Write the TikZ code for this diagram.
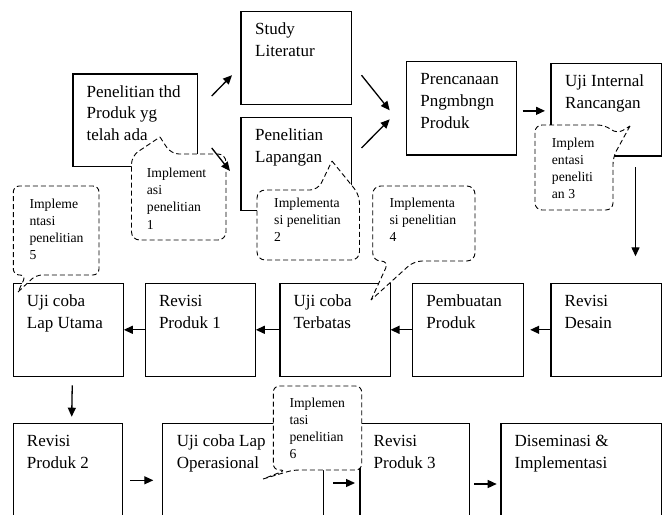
\documentclass[tikz,border=0pt]{standalone}
\usepackage{fontspec}
\setmainfont{Liberation Serif}
\usetikzlibrary{calc,arrows.meta}
% several lines set ragged right, baseline at the first line
\newcommand\stack[1]{\parbox[t]{160pt}{\raggedright #1}}
\begin{document}
\begin{tikzpicture}[x=1pt,y=-1pt,
  box/.style={draw,line width=1.25pt,inner sep=0pt,outer sep=0pt,anchor=north west,
    minimum width=110.5pt,minimum height=93pt},
  lbl/.style={anchor=base west,inner sep=0pt,font=\fontsize{17}{21.7}\selectfont},
  ctext/.style={anchor=base west,inner sep=0pt,font=\fontsize{13.7}{17.2}\selectfont},
  callout/.style={draw,fill=white,line width=0.9pt,dash pattern=on 5pt off 3pt,rounded corners=8pt},
  arr/.style={line width=1.3pt,-{Triangle[length=9pt,width=8pt]}}]
\useasboundingbox (0,0) rectangle (663,514);
\clip (0,0) rectangle (663,514);

% ---- first row
\node[box,minimum width=124.7pt,minimum height=92.7pt] (A) at (73,74) {};
\node[box] (B) at (241,11.7) {};
\node[box,minimum height=93.4pt] (C) at (241,117.3) {};
\node[box,minimum width=110pt,minimum height=93.3pt] (D) at (406.7,61.7) {};
\node[box,minimum height=92.7pt] (E) at (551,63.3) {};

% ---- second row
\node[box] (R1) at (13.3,283.3) {};
\node[box] (R2) at (145.3,283.3) {};
\node[box] (R3) at (280,283.3) {};
\node[box] (R4) at (412.7,283.3) {};
\node[box] (R5) at (551,283.3) {};

% ---- third row (runs past the lower edge)
\node[box,minimum width=109.4pt,minimum height=110pt] (S1) at (13.3,423.3) {};
\node[box,minimum width=160.6pt,minimum height=110pt] (S2) at (162.7,423.3) {};
\node[box,minimum width=109.3pt,minimum height=110pt] (S3) at (360,423.3) {};
\node[box,minimum width=160.7pt,minimum height=110pt] (S4) at (501,423.3) {};

% ---- box labels
\node[lbl] (tA) at ($(A.north west)+(13.5,23)$) {\stack{Penelitian thd\\Produk yg\\telah ada}};
\node[lbl] (tB) at ($(B.north west)+(14,23)$) {\stack{Study\\Literatur}};
\node[lbl] (tC) at ($(C.north west)+(14,23)$) {\stack{Penelitian\\Lapangan}};
\node[lbl] (tD) at ($(D.north west)+(13.5,23)$) {\stack{Prencanaan\\Pngmbngn\\Produk}};
\node[lbl] (tE) at ($(E.north west)+(14,23)$) {\stack{Uji Internal\\Rancangan}};
\node[lbl] (tR1) at ($(R1.north west)+(13.5,23)$) {\stack{Uji coba\\Lap Utama}};
\node[lbl] (tR2) at ($(R2.north west)+(13.5,23)$) {\stack{Revisi\\Produk 1}};
\node[lbl] (tR3) at ($(R3.north west)+(13.5,23)$) {\stack{Uji coba\\Terbatas}};
\node[lbl] (tR4) at ($(R4.north west)+(13.5,23)$) {\stack{Pembuatan\\Produk}};
\node[lbl] (tR5) at ($(R5.north west)+(13.5,23)$) {\stack{Revisi\\Desain}};
\node[lbl] (tS1) at ($(S1.north west)+(13.5,23.5)$) {\stack{Revisi\\Produk 2}};
\node[lbl] (tS2) at ($(S2.north west)+(14,23.5)$) {\stack{Uji coba Lap\\Operasional}};
\node[lbl] (tS3) at ($(S3.north west)+(13.5,23.5)$) {\stack{Revisi\\Produk 3}};
\node[lbl] (tS4) at ($(S4.north west)+(13.5,23.5)$) {\stack{Diseminasi \&\\Implementasi}};

% ---- speech bubbles
\draw[callout] (160,137) -- (171,154) -- (226,154) -- (226,240) -- (131.5,240) -- (131.5,156) -- (160,137);
\draw[callout] (332,161) -- (359.5,195) -- (359.5,260) -- (257,260) -- (257,190) -- (318,190) -- (332,161);
\draw[callout,rounded corners=7pt] (630,126) -- (613,157) -- (613,210) -- (535,210) -- (535,125) -- (605,125) -- (617,134) -- (630,126);
\draw[callout] (371,300) -- (389,261) -- (372.7,261) -- (372.7,186) -- (475,186) -- (475,261) -- (414,261) -- (371,300);
\draw[callout,rounded corners=6pt] (18,292) -- (36,275) -- (99,275) -- (99,186) -- (13.3,186) -- (13.3,275) -- (26,275) -- (18,292);
\draw[callout,rounded corners=6pt] (263,479) -- (293,470) -- (361.7,470) -- (361.7,386) -- (273.3,386) -- (273.3,470) -- (286,470) -- (263,479);

\node[ctext] (n1) at (146.7,177.5) {\stack{Implement\\asi\\penelitian\\1}};
\node[ctext] (n2) at (274,207) {\stack{Implementa\\si penelitian\\2}};
\node[ctext] (n3) at (551.7,147) {\stack{Implem\\entasi\\peneliti\\an 3}};
\node[ctext] (n4) at (389.3,207) {\stack{Implementa\\si penelitian\\4}};
\node[ctext] (n5) at (29.3,208.3) {\stack{Impleme\\ntasi\\penelitian\\5}};
\node[ctext] (n6) at (289.3,407.3) {\stack{Implemen\\tasi\\penelitian\\6}};

% ---- connectors, on top of the bubbles
\draw[arr] ($(A.north east)+(14,22)$) -- ($(B.west)+(-9,17)$);
\draw[arr] ($(A.east)+(14,27.6)$) -- ($(C.west)+(-11,7)$);
\draw[arr] ($(B.east)+(10,17)$) -- ($(D.west)+(-17,2)$);
\draw[arr] ($(C.east)+(10,-16)$) -- ($(D.west)+(-17,11)$);
\draw[arr] ($(D.east)+(6,2.5)$) -- ($(E.west)+(-6,1.2)$);
\draw[arr] ($(E.south east)+(-26,11)$) -- ($(R5.north east)+(-26,-27)$);
\draw[arr] (R5.west) -- ($(R4.east)+(7,0)$);
\draw[arr] (R4.west) -- (R3.east);
\draw[arr] (R3.west) -- (R2.east);
\draw[arr] (R2.west) -- (R1.east);
\draw[arr] ($(R1.south)+(3.7,9)$) -- ($(S1.north)+(3.7,-6.6)$);
\draw[arr] ($(S1.north east)+(7.3,57)$) -- ($(S2.north west)+(-9.4,57)$);
\draw[arr] ($(S2.north east)+(10,59.7)$) -- ($(S3.north west)+(-5,59.7)$);
\draw[arr] ($(S3.north east)+(4.7,60.7)$) -- ($(S4.north west)+(-4.3,60.7)$);
\end{tikzpicture}
\end{document}
